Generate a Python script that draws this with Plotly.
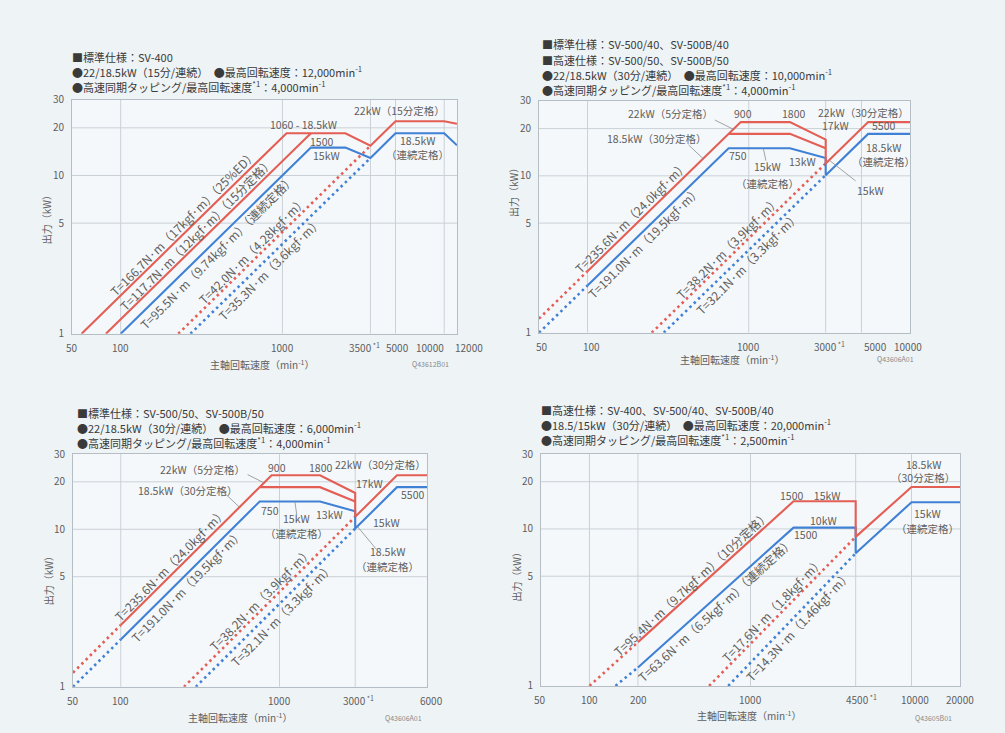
import math
import numpy as np
import plotly.graph_objects as go

W, H = 1005, 733
FONT = "Noto Sans CJK JP"
RED = "#e35e55"
BLUE = "#4081d5"
GRID = "#c9d1d7"
FRAME = "#b6bec5"
TXT = "#5e5e5e"
HEAD = "#3a3a3a"
PAPER = "#eef3f6"
PLOT = "#f5f8fa"

# ================= DATA =================
# Panel 1 : 標準仕様 SV-400
P1_RED_SPEED = [57.3, 1060, 2450, 3500, 5000, 10000, 12000]
P1_RED_KW = [1.0, 18.5, 18.5, 15.4, 22.0, 22.0, 21.2]
P1_RED15_SPEED = [81, 1500]
P1_RED15_KW = [1.0, 18.5]
P1_BLUE_SPEED = [100, 1500, 2450, 3500, 5000, 10000, 12000]
P1_BLUE_KW = [1.0, 15.0, 15.0, 12.9, 18.5, 18.5, 15.5]
P1_RDOT_SPEED = [227, 3500]
P1_RDOT_KW = [1.0, 15.4]
P1_BDOT_SPEED = [270, 3500]
P1_BDOT_KW = [1.0, 12.9]
P1_XTICKS = [50, 100, 1000, 3500, 5000, 10000, 12000]
P1_XTICKTEXT = ["50", "100", "1000", "3500<sup> *1</sup>", "5000", "10000", "12000"]
P1_XGRID = [100, 1000, 3500, 5000, 10000]

# Panel 2 : 標準仕様 SV-500/40, 高速仕様 SV-500/50
P2_RLOW_SPEED = [50, 100]
P2_RLOW_KW = [1.23, 2.47]
P2_RED_SPEED = [100, 892, 1800, 3000, 3000, 5500, 10000]
P2_RED_KW = [2.47, 22.0, 22.0, 17.0, 12.0, 22.0, 22.0]
P2_R185_SPEED = [750, 1800, 3000]
P2_R185_KW = [18.5, 18.5, 15.0]
P2_BLOW_SPEED = [50, 100]
P2_BLOW_KW = [1.0, 2.0]
P2_BLUE_SPEED = [100, 750, 1800, 3000, 3000, 5500, 10000]
P2_BLUE_KW = [2.0, 15.0, 15.0, 13.0, 10.1, 18.5, 18.5]
P2_RDOT_SPEED = [250, 3000]
P2_RDOT_KW = [1.0, 12.0]
P2_BDOT_SPEED = [297, 3000]
P2_BDOT_KW = [1.0, 10.1]
P2_XTICKS = [50, 100, 1000, 3000, 5000, 10000]
P2_XTICKTEXT = ["50", "100", "1000", "3000<sup> *1</sup>", "5000", "10000"]
P2_XGRID = [100, 1000, 3000, 5000]

# Panel 3 : 標準仕様 SV-500/50 (the chart draws its 6000 tick at the frame edge)
P3_FRAME_END = 8500
P3_RLOW_SPEED = [50, 100]
P3_RLOW_KW = [1.23, 2.47]
P3_RED_SPEED = [100, 892, 1800, 3000, 3000, 5500, P3_FRAME_END]
P3_RED_KW = [2.47, 22.0, 22.0, 17.0, 12.0, 22.0, 22.0]
P3_R185_SPEED = [750, 1800, 3000]
P3_R185_KW = [18.5, 18.5, 15.0]
P3_BLOW_SPEED = [50, 100]
P3_BLOW_KW = [1.0, 2.0]
P3_BLUE_SPEED = [100, 750, 1800, 3000, 3000, 5500, P3_FRAME_END]
P3_BLUE_KW = [2.0, 15.0, 15.0, 13.0, 10.1, 18.5, 18.5]
P3_RDOT_SPEED = [250, 3000]
P3_RDOT_KW = [1.0, 12.0]
P3_BDOT_SPEED = [297, 3000]
P3_BDOT_KW = [1.0, 10.1]
P3_XTICKS = [50, 100, 1000, 3000, P3_FRAME_END]
P3_XTICKTEXT = ["50", "100", "1000", "3000<sup> *1</sup>", "6000"]
P3_XGRID = [100, 1000, 3000]

# Panel 4 : 高速仕様 SV-400, SV-500/40
P4_RLOW_SPEED = [100, 200]
P4_RLOW_KW = [1.0, 1.9]
P4_RED_SPEED = [200, 1850, 4500, 4500, 10000, 20000]
P4_RED_KW = [1.9, 15.0, 15.0, 8.9, 18.5, 18.5]
P4_BLOW_SPEED = [145, 200]
P4_BLOW_KW = [1.0, 1.31]
P4_BLUE_SPEED = [200, 1850, 4500, 4500, 10000, 20000]
P4_BLUE_KW = [1.31, 10.2, 10.2, 7.0, 14.8, 14.8]
P4_RDOT_SPEED = [553, 4500]
P4_RDOT_KW = [1.0, 8.9]
P4_BDOT_SPEED = [727, 4500]
P4_BDOT_KW = [1.0, 7.0]
P4_XTICKS = [50, 100, 200, 1000, 4500, 10000, 20000]
P4_XTICKTEXT = ["50", "100", "200", "1000", "4500<sup> *1</sup>", "10000", "20000"]
P4_XGRID = [100, 200, 1000, 4500, 10000]

Y_TICKS = [1, 5, 10, 20, 30]
Y_GRID = [5, 10, 20]

# ================= LAYOUT GEOMETRY (pixels) =================
PANELS = {
    1: dict(xpx=(72, 457), ypx=(93, 332), xr=(50, 12000), ticks=P1_XTICKS, ticktext=P1_XTICKTEXT,
            tickshift=[0, 0, 0, -6, 2, -14, 12], grid=P1_XGRID, tick_y=336, title_xy=(262, 363),
            ytitle=(46, 213), code="Q43612B01", code_xy=(430, 363)),
    2: dict(xpx=(539, 910), ypx=(94, 331), xr=(50, 10000), ticks=P2_XTICKS, ticktext=P2_XTICKTEXT,
            tickshift=[3, 4, 0, 4, 14, -2], grid=P2_XGRID, tick_y=335, title_xy=(732, 358),
            ytitle=(514, 185), code="Q43606A01", code_xy=(895, 358)),
    3: dict(xpx=(73, 427), ypx=(455, 693), xr=(50, P3_FRAME_END), ticks=P3_XTICKS, ticktext=P3_XTICKTEXT,
            tickshift=[0, 0, 0, 3, 4], grid=P3_XGRID, tick_y=697, title_xy=(240, 724),
            ytitle=(48, 582), code="Q43606A01", code_xy=(403, 725)),
    4: dict(xpx=(541, 960), ypx=(455, 692), xr=(50, 20000), ticks=P4_XTICKS, ticktext=P4_XTICKTEXT,
            tickshift=[-1, 0, 1, 0, 6, 3, 0], grid=P4_XGRID, tick_y=696, title_xy=(749, 722),
            ytitle=(516, 578), code="Q43605B01", code_xy=(933, 725)),
}

HEADERS = {
    1: ((70, [49, 64, 79]), [
        "■標準仕様：SV-400",
        "●22/18.5kW（15分/連続）　●最高回転速度：12,000min<sup>-1</sup>",
        "●高速同期タッピング/最高回転速度<sup>*1</sup>：4,000min<sup>-1</sup>"]),
    2: ((540, [36, 52, 67, 82]), [
        "■標準仕様：SV-500/40、SV-500B/40",
        "■高速仕様：SV-500/50、SV-500B/50",
        "●22/18.5kW（30分/連続）　●最高回転速度：10,000min<sup>-1</sup>",
        "●高速同期タッピング/最高回転速度<sup>*1</sup>：4,000min<sup>-1</sup>"]),
    3: ((75, [413, 428, 443]), [
        "■標準仕様：SV-500/50、SV-500B/50",
        "●22/18.5kW（30分/連続）　●最高回転速度：6,000min<sup>-1</sup>",
        "●高速同期タッピング/最高回転速度<sup>*1</sup>：4,000min<sup>-1</sup>"]),
    4: ((539, [410, 425, 440]), [
        "■高速仕様：SV-400、SV-500/40、SV-500B/40",
        "●18.5/15kW（30分/連続）　●最高回転速度：20,000min<sup>-1</sup>",
        "●高速同期タッピング/最高回転速度<sup>*1</sup>：2,500min<sup>-1</sup>"]),
}

# series: (panel, speeds, kws, color, dashed)
SERIES = [
    (1, P1_RED_SPEED, P1_RED_KW, RED, False),
    (1, P1_RED15_SPEED, P1_RED15_KW, RED, False),
    (1, P1_BLUE_SPEED, P1_BLUE_KW, BLUE, False),
    (1, P1_RDOT_SPEED, P1_RDOT_KW, RED, True),
    (1, P1_BDOT_SPEED, P1_BDOT_KW, BLUE, True),
    (2, P2_RLOW_SPEED, P2_RLOW_KW, RED, True),
    (2, P2_BLOW_SPEED, P2_BLOW_KW, BLUE, True),
    (2, P2_RDOT_SPEED, P2_RDOT_KW, RED, True),
    (2, P2_BDOT_SPEED, P2_BDOT_KW, BLUE, True),
    (2, P2_BLUE_SPEED, P2_BLUE_KW, BLUE, False),
    (2, P2_R185_SPEED, P2_R185_KW, RED, False),
    (2, P2_RED_SPEED, P2_RED_KW, RED, False),
    (3, P3_RLOW_SPEED, P3_RLOW_KW, RED, True),
    (3, P3_BLOW_SPEED, P3_BLOW_KW, BLUE, True),
    (3, P3_RDOT_SPEED, P3_RDOT_KW, RED, True),
    (3, P3_BDOT_SPEED, P3_BDOT_KW, BLUE, True),
    (3, P3_BLUE_SPEED, P3_BLUE_KW, BLUE, False),
    (3, P3_R185_SPEED, P3_R185_KW, RED, False),
    (3, P3_RED_SPEED, P3_RED_KW, RED, False),
    (4, P4_RLOW_SPEED, P4_RLOW_KW, RED, True),
    (4, P4_BLOW_SPEED, P4_BLOW_KW, BLUE, True),
    (4, P4_RDOT_SPEED, P4_RDOT_KW, RED, True),
    (4, P4_BDOT_SPEED, P4_BDOT_KW, BLUE, True),
    (4, P4_BLUE_SPEED, P4_BLUE_KW, BLUE, False),
    (4, P4_RED_SPEED, P4_RED_KW, RED, False),
]

# rotated torque labels: (panel, speeds, kws, centre speed on line, text, side +1 above-left / -1 below-right)
ROT_LABELS = [
    (1, P1_RED_SPEED, P1_RED_KW, 264, "T=166.7N·m（17kgf·m）（25%ED）", 1),
    (1, P1_RED15_SPEED, P1_RED15_KW, 320, "T=117.7N·m（12kgf·m）（15分定格）", 1),
    (1, P1_BLUE_SPEED, P1_BLUE_KW, 361, "T=95.5N·m（9.74kgf·m）（連続定格）", -1),
    (1, P1_RDOT_SPEED, P1_RDOT_KW, 711, "T=42.0N·m（4.28kgf·m）", 1),
    (1, P1_BDOT_SPEED, P1_BDOT_KW, 763, "T=35.3N·m（3.6kgf·m）", -1),
    (2, P2_RED_SPEED, P2_RED_KW, 203, "T=235.6N·m（24.0kgf·m）", 1),
    (2, P2_BLUE_SPEED, P2_BLUE_KW, 207, "T=191.0N·m（19.5kgf·m）", -1),
    (2, P2_RDOT_SPEED, P2_RDOT_KW, 802, "T=38.2N·m（3.9kgf·m）", 1),
    (2, P2_BDOT_SPEED, P2_BDOT_KW, 905, "T=32.1N·m（3.3kgf·m）", -1),
    (3, P3_RED_SPEED, P3_RED_KW, 222, "T=235.6N·m（24.0kgf·m）", 1),
    (3, P3_BLUE_SPEED, P3_BLUE_KW, 239, "T=191.0N·m（19.5kgf·m）", -1),
    (3, P3_RDOT_SPEED, P3_RDOT_KW, 830, "T=38.2N·m（3.9kgf·m）", 1),
    (3, P3_BDOT_SPEED, P3_BDOT_KW, 939, "T=32.1N·m（3.3kgf·m）", -1),
    (4, P4_RED_SPEED, P4_RED_KW, 462, "T=95.4N·m（9.7kgf·m）（10分定格）", 1),
    (4, P4_BLUE_SPEED, P4_BLUE_KW, 553, "T=63.6N·m（6.5kgf·m）（連続定格）", -1),
    (4, P4_RDOT_SPEED, P4_RDOT_KW, 1483, "T=17.6N·m（1.8kgf·m）", 1),
    (4, P4_BDOT_SPEED, P4_BDOT_KW, 1811, "T=14.3N·m（1.46kgf·m）", -1),
]

# horizontal labels: (panel, speed, kW, text)
LABELS = [
    (1, 1340, 21.0, "1060 - 18.5kW"), (1, 1754, 16.5, "1500"), (1, 1884, 13.3, "15kW"),
    (1, 5320, 25.6, "22kW（15分定格）"), (1, 6870, 16.7, "18.5kW"), (1, 6870, 13.6, "（連続定格）"),
    (2, 326, 24.9, "22kW（5分定格）"), (2, 925, 24.9, "900"), (2, 1892, 24.9, "1800"),
    (2, 5140, 25.2, "22kW（30分定格）"), (2, 3445, 21.0, "17kW"), (2, 6850, 21.0, "5500"),
    (2, 270, 17.2, "18.5kW（30分定格）"), (2, 861, 13.5, "750"), (2, 1304, 11.4, "15kW"),
    (2, 1304, 9.0, "（連続定格）"), (2, 2152, 12.4, "13kW"), (2, 6850, 15.1, "18.5kW"),
    (2, 6850, 12.3, "（連続定格）"), (2, 5690, 8.05, "15kW"),
    (3, 329, 23.9, "22kW（5分定格）"), (3, 960, 24.6, "900"), (3, 1820, 24.6, "1800"),
    (3, 4350, 25.6, "22kW（30分定格）"), (3, 3690, 19.6, "17kW"), (3, 6870, 16.5, "5500"),
    (3, 264, 17.5, "18.5kW（30分定格）"), (3, 867, 13.2, "750"), (3, 1283, 11.7, "15kW"),
    (3, 1283, 9.4, "（連続定格）"), (3, 2066, 12.4, "13kW"), (3, 4720, 11.1, "15kW"),
    (3, 4770, 7.2, "18.5kW"), (3, 4770, 5.8, "（連続定格）"),
    (4, 2345, 16.3, "1500　15kW"), (4, 2823, 11.4, "10kW"), (4, 2183, 9.23, "1500"),
    (4, 11800, 25.9, "18.5kW"), (4, 11800, 21.4, "（30分定格）"),
    (4, 12500, 12.5, "15kW"), (4, 12500, 10.1, "（連続定格）"),
]

# leader lines: (panel, tip speed, tip kW, tail dx px, tail dy px)
LEADERS = [
    (2, 802, 19.8, -20, -10), (2, 520, 12.9, -16, -15), (2, 1230, 15.0, 3, 14), (2, 3150, 12.6, 28, 22),
    (3, 800, 19.7, -18, -9), (3, 560, 13.8, -18, -17), (3, 1250, 15.0, 2, 14), (3, 3100, 10.4, 20, 24),
]

# ================= BUILD =================
L = math.log10
fig = go.Figure()
ann = []


def ax_names(i):
    return ("x" if i == 1 else f"x{i}"), ("y" if i == 1 else f"y{i}")


def ppd(i):
    p = PANELS[i]
    xp = (p["xpx"][1] - p["xpx"][0]) / (L(p["xr"][1]) - L(p["xr"][0]))
    yp = (p["ypx"][1] - p["ypx"][0]) / L(30)
    return xp, yp


def paper_text(xpx, ypx, text, size, color, angle=0, xanchor="center"):
    return dict(x=xpx / W, y=1 - ypx / H, xref="paper", yref="paper", text=text, showarrow=False,
                xanchor=xanchor, yanchor="middle", textangle=angle,
                font=dict(family=FONT, size=size, color=color))


layout_axes = {}
for i, p in PANELS.items():
    xa, ya = ax_names(i)
    kx = "xaxis" if i == 1 else f"xaxis{i}"
    ky = "yaxis" if i == 1 else f"yaxis{i}"
    layout_axes[kx] = dict(type="log", range=[L(p["xr"][0]), L(p["xr"][1])],
                           domain=[p["xpx"][0] / W, p["xpx"][1] / W], anchor=ya,
                           showgrid=False, zeroline=False, showline=True, mirror=True,
                           linecolor=FRAME, linewidth=1, showticklabels=False, ticks="")
    layout_axes[ky] = dict(type="log", range=[0, L(30)],
                           domain=[1 - p["ypx"][1] / H, 1 - p["ypx"][0] / H], anchor=xa,
                           showgrid=False, zeroline=False, showline=True, mirror=True,
                           linecolor=FRAME, linewidth=1, ticks="", tickvals=Y_TICKS,
                           ticktext=[str(v) for v in Y_TICKS], ticklabelstandoff=5,
                           tickfont=dict(family=FONT, size=10, color=TXT))
    gx, gy = [], []
    for v in p["grid"]:
        gx += [v, v, None]
        gy += [1, 30, None]
    for v in Y_GRID:
        gx += [p["xr"][0], p["xr"][1], None]
        gy += [v, v, None]
    fig.add_trace(go.Scatter(x=gx, y=gy, mode="lines", xaxis=xa, yaxis=ya,
                             line=dict(color=GRID, width=1), hoverinfo="skip", showlegend=False))
    for v, t, s in zip(p["ticks"], p["ticktext"], p["tickshift"]):
        ann.append(dict(x=L(v), xref=xa, y=1 - p["tick_y"] / H, yref="paper", text=t, showarrow=False,
                        xanchor="center", yanchor="top", xshift=s,
                        font=dict(family=FONT, size=10, color=TXT)))
    ann.append(paper_text(*p["title_xy"], "主軸回転速度（min<sup>-1</sup>）", 10, TXT))
    ann.append(paper_text(*p["ytitle"], "出力（kW）", 10, TXT, angle=-90))
    ann.append(paper_text(*p["code_xy"], p["code"], 7, "#8a8a8a"))

for i, (pos, lines) in HEADERS.items():
    x0, ys = pos
    for yy, t in zip(ys, lines):
        ann.append(paper_text(x0, yy, t, 11, HEAD, xanchor="left"))

for i, sp, kw, col, dashed in SERIES:
    xa, ya = ax_names(i)
    fig.add_trace(go.Scatter(x=sp, y=kw, mode="lines", xaxis=xa, yaxis=ya, hoverinfo="skip",
                             showlegend=False,
                             line=dict(color=col, width=2.6 if dashed else 2.1,
                                       dash="2.5px,3.5px" if dashed else "solid")))

for i, sp, kw, nc, text, side in ROT_LABELS:
    xa, ya = ax_names(i)
    lx, ly = np.log10(sp), np.log10(kw)
    lc = L(nc)
    lp = float(np.interp(lc, lx, ly))
    k = int(np.searchsorted(lx, lc)) - 1
    k = max(0, min(k, len(lx) - 2))
    s = (ly[k + 1] - ly[k]) / (lx[k + 1] - lx[k])
    xp, yp = ppd(i)
    ang = -math.degrees(math.atan(s * yp / xp))
    off = 6
    ann.append(dict(x=lc, y=lp, xref=xa, yref=ya, text=text, showarrow=False, textangle=ang,
                    xanchor="center", yanchor="middle",
                    xshift=-off * side, yshift=off * side,
                    font=dict(family=FONT, size=12, color=TXT)))

for i, n, kw, text in LABELS:
    xa, ya = ax_names(i)
    ann.append(dict(x=L(n), y=L(kw), xref=xa, yref=ya, text=text, showarrow=False,
                    xanchor="center", yanchor="middle",
                    font=dict(family=FONT, size=10.5, color=TXT)))

for i, n, kw, dx, dy in LEADERS:
    xa, ya = ax_names(i)
    ann.append(dict(x=L(n), y=L(kw), xref=xa, yref=ya, text="", showarrow=True, arrowhead=0,
                    arrowwidth=0.8, arrowcolor="#8c8c8c", ax=dx, ay=dy, standoff=0))

fig.update_layout(width=W, height=H, autosize=False, margin=dict(l=0, r=0, t=0, b=0),
                  paper_bgcolor=PAPER, plot_bgcolor=PLOT, showlegend=False,
                  font=dict(family=FONT), annotations=ann, **layout_axes)
fig.write_html("out.html", config={"displayModeBar": False},
               post_script="document.body.style.margin='0';document.body.style.overflow='hidden';"
                           "document.body.style.background='" + PAPER + "';")
